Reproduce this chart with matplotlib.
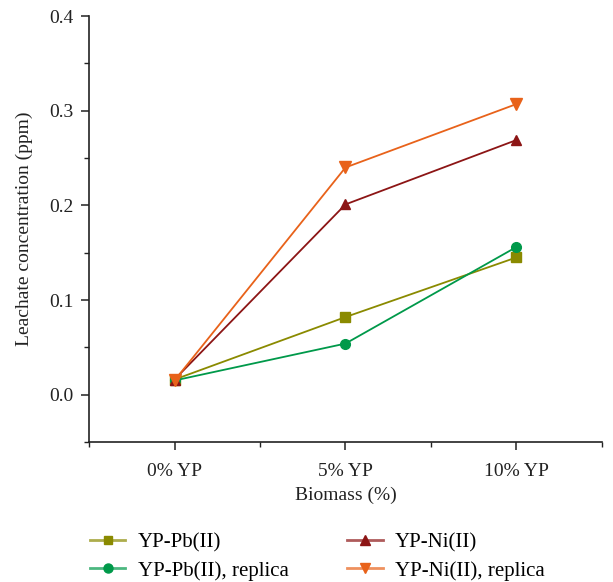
import matplotlib
matplotlib.use("Agg")
import matplotlib.pyplot as plt
from matplotlib.ticker import MultipleLocator, FixedLocator
from matplotlib.lines import Line2D
from matplotlib.legend_handler import HandlerTuple

categories = ["0% YP", "5% YP", "10% YP"]
pb = [0.016, 0.082, 0.145]
pb_rep = [0.015, 0.054, 0.156]
ni = [0.016, 0.201, 0.269]
ni_rep = [0.015, 0.240, 0.307]

plt.rcParams['font.family'] = ['Liberation Serif', 'DejaVu Serif']

fig = plt.figure(figsize=(6.13, 5.82), dpi=100)
ax = fig.add_axes([0.1452, 0.2405, 0.8368, 0.732])

x = list(range(len(categories)))
lw = 1.3
series = [
    (pb, '#8a8a00', 's', 6.5, 'YP-Pb(II)'),
    (pb_rep, '#00994a', 'o', 7, 'YP-Pb(II), replica'),
    (ni, '#8c1515', '^', 7.5, 'YP-Ni(II)'),
    (ni_rep, '#e8621a', 'v', 8, 'YP-Ni(II), replica'),
]
handles = []
labels = []
for vals, c, m, ms, lab in series:
    ax.plot(x, vals, color=c, marker=m, ms=ms, lw=lw)
    ln = Line2D([], [], color=c, lw=2.0, alpha=0.7)
    mk = Line2D([], [], color=c, marker=m, ms=ms - 0.5, lw=0)
    handles.append((ln, mk))
    labels.append(lab)

ax.set_xlim(-0.5, 2.5)
ax.set_ylim(-0.05, 0.4)
ax.set_xticks(x)
ax.set_xticklabels(categories)
ax.xaxis.set_minor_locator(FixedLocator([-0.5, 0.5, 1.5, 2.5]))
ax.set_yticks([0.0, 0.1, 0.2, 0.3, 0.4])
ax.set_yticklabels(['0.0', '0.1', '0.2', '0.3', '0.4'])
ax.yaxis.set_minor_locator(MultipleLocator(0.05))

for s in ['top', 'right']:
    ax.spines[s].set_visible(False)
for s in ['left', 'bottom']:
    ax.spines[s].set_linewidth(1.2)
    ax.spines[s].set_color('#222222')

ax.tick_params(axis='both', which='major', direction='out', length=6, width=1.1,
               labelsize=14, colors='#222222', pad=5)
ax.tick_params(axis='both', which='minor', direction='out', length=3.5, width=1.0, colors='#222222')
ax.tick_params(axis='x', which='major', pad=9)

ax.set_xlabel('Biomass (%)', fontsize=14, color='#222222', labelpad=5)
ax.set_ylabel('Leachate concentration (ppm)', fontsize=14, color='#222222', labelpad=12)

leg = fig.legend(handles=handles, labels=labels, loc='upper left',
                 bbox_to_anchor=(90 / 613, 1 - 533 / 582),
                 ncol=2, frameon=False, fontsize=15, handlelength=1.7, handletextpad=0.6,
                 columnspacing=2.8, labelspacing=0.4, borderpad=0, borderaxespad=0,
                 handler_map={tuple: HandlerTuple(ndivide=1, pad=0)})

fig.savefig('out.png', dpi=100)
